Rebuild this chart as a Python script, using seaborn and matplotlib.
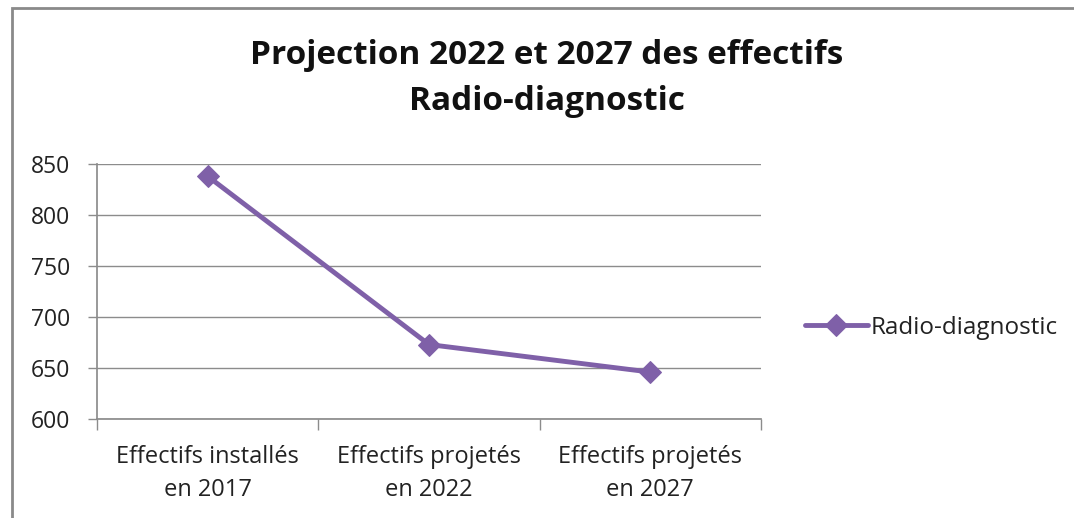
import matplotlib
matplotlib.use("Agg")
import matplotlib.pyplot as plt
from matplotlib.patches import Rectangle
import seaborn as sns
import pandas as pd

categories = ["Effectifs installés\nen 2017", "Effectifs projetés\nen 2022", "Effectifs projetés\nen 2027"]
values = [838, 673, 646]
series_name = "Radio-diagnostic"
y_ticks = [600, 650, 700, 750, 800, 850]

df = pd.DataFrame({"cat": categories, "val": values, "serie": series_name})

sns.set_theme(style="white")
plt.rcParams["font.family"] = ["Open Sans", "DejaVu Sans"]

W, H = 1074, 518
fig = plt.figure(figsize=(W / 100, H / 100), dpi=100)
ax = fig.add_axes([97 / W, 1 - 419 / H, (761 - 97) / W, (419 - 164) / H])

color = "#7F60A8"
sns.lineplot(data=df, x="cat", y="val", hue="serie", palette=[color], sort=False,
             marker="D", markersize=11, markeredgecolor=color, linewidth=3.5, ax=ax)

ax.set_xlim(-0.5, 2.5)
ax.set_ylim(600, 850)
ax.set_yticks(y_ticks)
ax.set_yticklabels([str(v) for v in y_ticks], fontsize=16.5, color="#222222")
ax.set_xticks(range(len(categories)))
ax.set_xticklabels(categories, fontsize=17, color="#222222", linespacing=1.5)
ax.set_xlabel("")
ax.set_ylabel("")

grid_c = "#8c8c8c"
ax.grid(axis="y", color=grid_c, linewidth=1)
ax.set_axisbelow(True)
for s in ["top", "right"]:
    ax.spines[s].set_visible(False)
ax.spines["left"].set_color(grid_c)
ax.spines["bottom"].set_color(grid_c)
ax.tick_params(axis="y", length=6.5, color=grid_c, width=1, pad=13, left=True)
ax.tick_params(axis="x", length=0, pad=19)
# category separators on the x axis
ax.set_xticks([-0.5, 0.5, 1.5, 2.5], minor=True)
ax.tick_params(axis="x", which="minor", length=8, color=grid_c, width=1, bottom=True)

leg = ax.legend(loc="center left", bbox_to_anchor=(795 / W, 1 - 328 / H), bbox_transform=fig.transFigure,
                frameon=False, fontsize=17.5, handlelength=2.6, handletextpad=0.1, borderaxespad=0)
for t in leg.get_texts():
    t.set_color("#222222")

title_x = 547 / W
fig.text(title_x, 1 - 56 / H, "Projection 2022 et 2027 des effectifs", ha="center", va="center",
         fontsize=24, fontweight="bold", color="#111111")
fig.text(title_x, 1 - 102 / H, "Radio-diagnostic", ha="center", va="center",
         fontsize=24, fontweight="bold", color="#111111")

fig.patches.append(Rectangle((12 / W, -0.05), 1.1, 1 - 8 / H + 0.05, transform=fig.transFigure,
                             fill=False, edgecolor="#8a8a8a", linewidth=2))

fig.savefig("out.png", dpi=100)
